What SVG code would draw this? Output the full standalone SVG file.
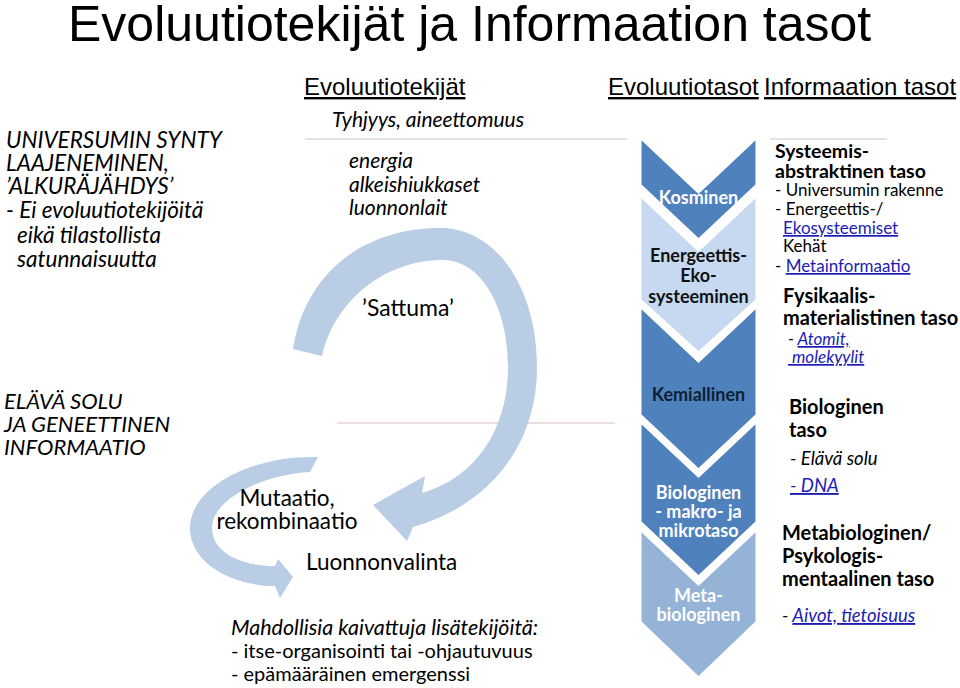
<svg xmlns="http://www.w3.org/2000/svg" width="960" height="688" viewBox="0 0 960 688">
<style>
.t{font-family:Lato,"Noto Sans",sans-serif;fill:#000}
.i{font-style:italic}
.b{font-weight:bold}
.h{font-family:"Liberation Sans",Arial,sans-serif;font-size:24px;text-decoration:underline;fill:#000}
.lk{fill:#1c1cb4;text-decoration:underline}
.arr{fill:#b9cde5}
.chev{stroke:#fff;stroke-width:3}
.ct{font-family:Lato,"Noto Sans",sans-serif;font-weight:bold;font-size:18px;text-anchor:middle}
</style>
<rect width="960" height="688" fill="#fff"/>
<text x="68" y="41" font-family="Liberation Sans,Arial,sans-serif" font-size="50" fill="#000">Evoluutiotekijät ja Informaation tasot</text>
<text class="h" x="304" y="95">Evoluutiotekijät</text>
<text class="h" x="608" y="95">Evoluutiotasot</text>
<text class="h" x="764" y="95">Informaation tasot</text>
<line x1="305" y1="139" x2="627" y2="139" stroke="#d3dbe3" stroke-width="1.5"/>
<line x1="770" y1="139" x2="887" y2="139" stroke="#d3dbe3" stroke-width="1.5"/>
<line x1="337" y1="423" x2="615" y2="423" stroke="#e4d4d8" stroke-width="1.5"/>

<g id="connectors">
<path id="big-arrow" class="arr" d="M293,349 C305,272 365,228 440,228 C498,228 537,290 537,367 C537,445 490,505 413,527 L407,541 L373,505 L425,476 L422,493 C475,478 508,430 508,367 C508,305 480,260 443,260 C385,260 335,300 322,356 Z"/>
<path id="small-arrow" class="arr" d="M318,457 C250,455 190,488 190,528 C190,565 235,586 275,586 L280,598 L293,577 L278,559 L275,566 C240,566 212,552 212,528 C212,500 260,475 310,472 Z"/>
</g>

<g id="left-top">
<text class="t i" font-size="22.5"><tspan x="6" y="148">UNIVERSUMIN SYNTY</tspan><tspan x="6" y="171">LAAJENEMINEN,</tspan><tspan x="6" y="194">’ALKURÄJÄHDYS’</tspan><tspan x="6" y="218">- Ei evoluutiotekijöitä</tspan><tspan x="17" y="243">eikä tilastollista</tspan><tspan x="17" y="267">satunnaisuutta</tspan></text>
</g>
<g id="left-bottom">
<text class="t i" font-size="22"><tspan x="4" y="409">ELÄVÄ SOLU</tspan><tspan x="4" y="432">JA GENEETTINEN</tspan><tspan x="4" y="455">INFORMAATIO</tspan></text>
</g>
<g id="factors">
<text class="t i" font-size="21" x="332" y="127">Tyhjyys, aineettomuus</text>
<text class="t i" font-size="21"><tspan x="349" y="168">energia</tspan><tspan x="349" y="192">alkeishiukkaset</tspan><tspan x="349" y="215">luonnonlait</tspan></text>
<text class="t" font-size="23" x="362" y="316">’Sattuma’</text>
<text class="t" font-size="22.5" text-anchor="middle"><tspan x="287" y="506">Mutaatio,</tspan><tspan x="287" y="529">rekombinaatio</tspan></text>
<text class="t" font-size="22.5" x="306" y="570">Luonnonvalinta</text>
<text class="t"><tspan class="i" font-size="21.5" x="231" y="635">Mahdollisia kaivattuja lisätekijöitä:</tspan><tspan font-size="20" x="231" y="658">- itse-organisointi tai -ohjautuvuus</tspan><tspan font-size="20" x="231" y="681">- epämääräinen emergenssi</tspan></text>
</g>

<g id="chevrons">
<g id="chev-kosminen"><path class="chev" fill="#4f81bd" d="M640,137 L698.5,192 L757,137 L757,185 L698.5,240 L640,185 Z"/><text class="ct" x="698.5" y="204" fill="#fff">Kosminen</text></g>
<g id="chev-energeettis"><path class="chev" fill="#c6d9f1" d="M640,195 L698.5,250 L757,195 L757,300 L698.5,353 L640,300 Z"/><text class="ct" fill="#111"><tspan x="698.5" y="262">Energeettis-</tspan><tspan x="698.5" y="282">Eko-</tspan><tspan x="698.5" y="303">systeeminen</tspan></text></g>
<g id="chev-kemiallinen"><path class="chev" fill="#4f81bd" d="M640,306 L698.5,361 L757,306 L757,415 L698.5,470 L640,415 Z"/><text class="ct" x="698.5" y="401" fill="#0f1f33">Kemiallinen</text></g>
<g id="chev-biologinen"><path class="chev" fill="#4f81bd" d="M640,421 L698.5,476 L757,421 L757,522 L698.5,577 L640,522 Z"/><text class="ct" fill="#fff"><tspan x="698.5" y="499">Biologinen</tspan><tspan x="698.5" y="518">- makro- ja</tspan><tspan x="698.5" y="537">mikrotaso</tspan></text></g>
<g id="chev-meta"><path class="chev" fill="#95b3d7" d="M640,529 L698.5,584 L757,529 L757,622 L698.5,678 L640,622 Z"/><text class="ct" fill="#fff"><tspan x="698.5" y="602">Meta-</tspan><tspan x="698.5" y="621">biologinen</tspan></text></g>
</g>

<g id="info-levels">
<text class="t b" font-size="19.5"><tspan x="775" y="158">Systeemis-</tspan><tspan x="775" y="178">abstraktinen taso</tspan></text>
<text class="t" font-size="17"><tspan x="775" y="196">- Universumin rakenne</tspan><tspan x="775" y="215">- Energeettis-/</tspan><tspan x="783" y="234" class="lk">Ekosysteemiset</tspan><tspan x="783" y="252">Kehät</tspan><tspan x="775" y="272">- </tspan><tspan class="lk">Metainformaatio</tspan></text>
<text class="t b" font-size="20"><tspan x="783" y="303">Fysikaalis-</tspan><tspan x="783" y="325">materialistinen taso</tspan></text>
<text class="t i" font-size="17"><tspan x="788" y="345">- </tspan><tspan class="lk">Atomit,</tspan><tspan x="788" y="363" class="lk"> molekyylit</tspan></text>
<text class="t b" font-size="20"><tspan x="789" y="414">Biologinen</tspan><tspan x="789" y="437">taso</tspan></text>
<text class="t i" font-size="18.5"><tspan x="790" y="465">- Elävä solu</tspan><tspan x="790" y="492" class="lk">- DNA</tspan></text>
<text class="t b" font-size="20"><tspan x="782" y="540">Metabiologinen/</tspan><tspan x="782" y="563">Psykologis-</tspan><tspan x="782" y="586">mentaalinen taso</tspan></text>
<text class="t i" font-size="18.5"><tspan x="782" y="622">- </tspan><tspan class="lk">Aivot, tietoisuus</tspan></text>
</g>
</svg>
